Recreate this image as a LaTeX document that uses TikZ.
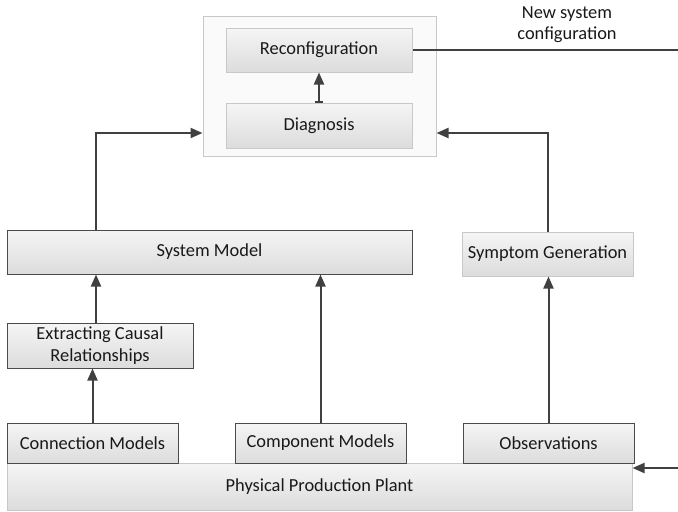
\documentclass[tikz,border=0pt]{standalone}
\usepackage{fontspec}
\setmainfont{Carlito}
\usetikzlibrary{positioning, arrows.meta, shadows}
\definecolor{boxtop}{HTML}{F5F5F5}
\definecolor{boxbottom}{HTML}{DCDCDC}
\definecolor{rimdark}{HTML}{4A4A4A}
\definecolor{rimlight}{HTML}{C8C8C8}
\definecolor{wire}{HTML}{404040}
\tikzset{
	>={Triangle[length=9pt,width=7.5pt]},
	every node/.style={font=\fontsize{13.8}{16}\selectfont, text=black!90},
	block/.style={draw=rimdark, line width=0.75pt, top color=boxtop, bottom color=boxbottom,
		minimum width=128.25pt, minimum height=30pt, inner sep=1pt, align=center,
		drop shadow={shadow xshift=0.6pt, shadow yshift=-0.6pt, opacity=0.3}},
	paleblock/.style={block, draw=rimlight},
	frame/.style={draw=rimlight, fill=gray!4, line width=0.75pt},
	link/.style={->, draw=wire, line width=1.5pt}}

\begin{document}
\begin{tikzpicture}[x=0.75pt, y=-0.75pt]
	\useasboundingbox (0,0) rectangle (678,511);

	% controller: diagnosis and reconfiguration
	\node[frame, minimum width=174.75pt, minimum height=105pt] (ctrl) at (319.5,86) {};
	\node[paleblock, minimum width=139.5pt, minimum height=33pt] (reconf) at (319,50) {Reconfiguration};
	\node[paleblock, minimum width=139.5pt, minimum height=33.75pt, below=22.5pt of reconf] (diag) {Diagnosis};
	\node[align=center] (newcfg) at (567,24.5) {New system\\configuration};

	% models
	\node[block, minimum width=303.75pt, minimum height=33pt] (sysmodel) at (209.5,252) {System Model};
	\node[paleblock, minimum height=33pt] (symptom) at (547.5,254) {Symptom Generation};
	\node[block, minimum width=139.5pt, minimum height=33.75pt] (causal) at (100,345.5) {Extracting Causal\\Relationships};

	% plant and its data sources
	\node[paleblock, minimum width=468.75pt, minimum height=35.25pt] (plant) at (319.5,486.5) {Physical Production Plant};
	\node[block] (conn) at (92.5,443) {Connection Models};
	\node[block, right=42pt of conn] (comp) {Component Models};
	\node[block, right=42pt of comp] (obs) {Observations};

	\coordinate (out) at (678,50);
	\coordinate (feed) at (678,468);

	\path[every edge/.append style={link}]
		(diag) edge[{Bar[width=6pt]}->] (reconf)
		(reconf) edge[-] (out)
		(conn.north) edge (conn.north |- causal.south)
		([xshift=-3pt]causal.north) edge ([xshift=-3pt]causal.north |- sysmodel.south)
		(comp.north) edge (comp.north |- sysmodel.south)
		(obs.north) edge (obs.north |- symptom.south)
		(feed) edge (feed -| plant.east)
		;
	\draw[link] ([xshift=-3pt]sysmodel.north -| causal.north) |- ([yshift=-35.25pt]ctrl.west);
	\draw[link] (symptom.north) |- ([yshift=-35.25pt]ctrl.east);
\end{tikzpicture}
\end{document}
